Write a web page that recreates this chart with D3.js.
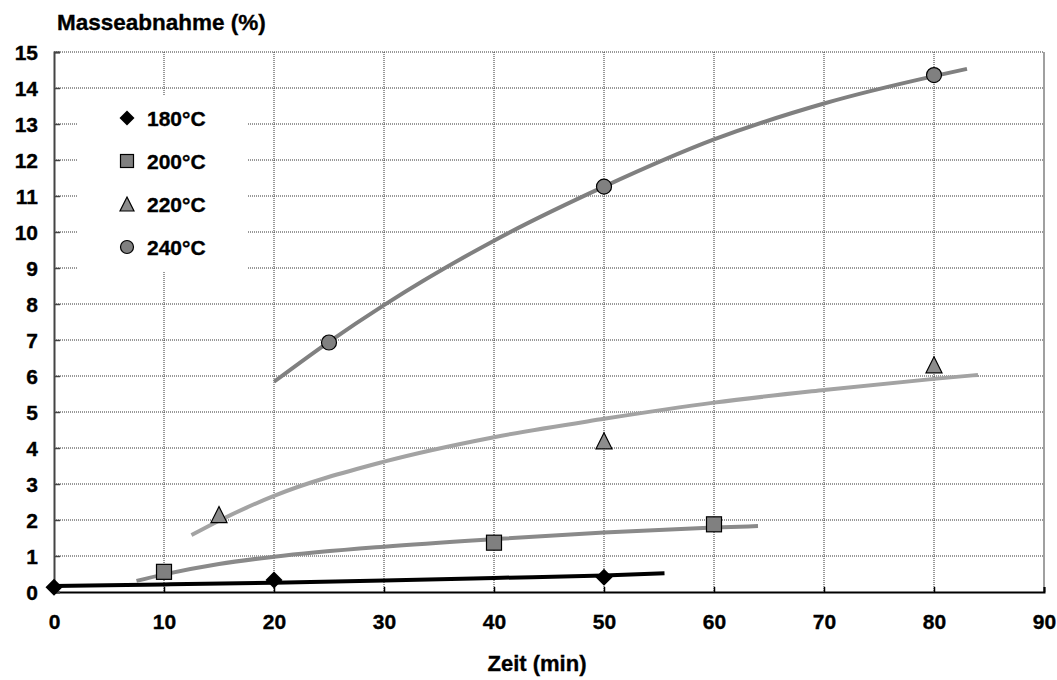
<!DOCTYPE html>
<html>
<head>
<meta charset="utf-8">
<script src="https://cdn.jsdelivr.net/npm/d3@7"></script>
<style>
  html, body { margin: 0; padding: 0; background: #fff; }
  svg { display: block; }
  text { font-family: "Liberation Sans", Arial, Helvetica, sans-serif; font-weight: bold; fill: #000; stroke: #000; stroke-width: 0.35px; }
</style>
</head>
<body>
<svg id="chart" width="1057" height="680"></svg>
<script>
// Series labels (temperatures)
const seriesNames = ["180°C", "200°C", "220°C", "240°C"];

// Measured points: [Zeit (min), Masseabnahme (%)]
const points180 = [[0, 0.13], [20, 0.33], [50, 0.41]];
const points200 = [[10, 0.56], [40, 1.37], [60, 1.88]];
const points220 = [[15, 2.15], [50, 4.20], [80, 6.31]];
const points240 = [[25, 6.93], [50, 11.26], [80, 14.36]];

// Trend curves through the measurements
const trend180 = [[0, 0.17], [10, 0.21], [20, 0.26], [30, 0.32], [40, 0.39], [50, 0.46], [55.5, 0.52]];
const trend200 = [[7.5, 0.31], [10, 0.49], [15, 0.78], [20, 0.98], [30, 1.26], [40, 1.47], [50, 1.65], [60, 1.79], [64, 1.83]];
const trend220 = [[12.5, 1.58], [15, 1.98], [20, 2.67], [30, 3.62], [40, 4.30], [50, 4.81], [60, 5.26], [70, 5.61], [80, 5.92], [84, 6.03]];
const trend240 = [[20, 5.84], [25, 6.95], [30, 7.97], [40, 9.76], [50, 11.26], [60, 12.57], [70, 13.57], [80, 14.33], [83, 14.53]];

// Axis ticks
const xTicks = [0, 10, 20, 30, 40, 50, 60, 70, 80, 90];
const yTicks = [0, 1, 2, 3, 4, 5, 6, 7, 8, 9, 10, 11, 12, 13, 14, 15];

const svg = d3.select("#chart");
const W = 1057, H = 680;
const margin = { left: 54, top: 52, right: 13, bottom: 88 };
const x = d3.scaleLinear().domain([0, 90]).range([margin.left, W - margin.right]);
const y = d3.scaleLinear().domain([0, 15]).range([H - margin.bottom, margin.top]);

const series = [
  { name: seriesNames[0], pts: points180, trend: trend180, line: "#000000", shape: "diamond", fill: "#000000" },
  { name: seriesNames[1], pts: points200, trend: trend200, line: "#8a8a8a", shape: "square",  fill: "#808080" },
  { name: seriesNames[2], pts: points220, trend: trend220, line: "#a3a3a3", shape: "triangle", fill: "#8c8c8c" },
  { name: seriesNames[3], pts: points240, trend: trend240, line: "#808080", shape: "circle",  fill: "#808080" }
];

// Gridlines (dotted)
const grid = svg.append("g").attr("class", "grid");
grid.selectAll("line.h").data(yTicks.filter(d => d > 0)).join("line")
  .attr("x1", x(0)).attr("x2", x(90))
  .attr("y1", d => y(d)).attr("y2", d => y(d))
  .attr("stroke", "#333").attr("stroke-width", 1).attr("stroke-dasharray", "1,1");
grid.selectAll("line.v").data(xTicks.filter(d => d > 0 && d < 90)).join("line")
  .attr("x1", d => x(d)).attr("x2", d => x(d))
  .attr("y1", y(15)).attr("y2", y(0))
  .attr("stroke", "#333").attr("stroke-width", 1).attr("stroke-dasharray", "1,1");

// Right border of the plot area
svg.append("line")
  .attr("x1", x(90)).attr("x2", x(90)).attr("y1", y(15)).attr("y2", y(0))
  .attr("stroke", "#808080").attr("stroke-width", 1.5);

// Legend panel (covers the grid)
const legendX = 78, legendY = 96;
svg.append("rect")
  .attr("x", legendX).attr("y", legendY).attr("width", 170).attr("height", 176)
  .attr("fill", "#fff");

// Axes
const xAxis = d3.axisBottom(x).tickValues(xTicks).tickSize(-5).tickPadding(0).tickFormat(d3.format("d"));
const yAxis = d3.axisLeft(y).tickValues(yTicks).tickSize(-6).tickPadding(0).tickFormat(d3.format("d"));

const gx = svg.append("g").attr("transform", `translate(0,${y(0)})`).call(xAxis);
gx.select(".domain").attr("stroke", "#000").attr("stroke-width", 2);
gx.selectAll(".tick line").attr("stroke", "#000").attr("stroke-width", 1.5);
gx.selectAll(".tick text").attr("font-size", 21).attr("y", 37).attr("dy", 0)
  .attr("font-family", "Liberation Sans, Arial, sans-serif").attr("font-weight", "bold").attr("fill", "#000");

const gy = svg.append("g").attr("transform", `translate(${x(0)},0)`).call(yAxis);
gy.select(".domain").attr("stroke", "#444").attr("stroke-width", 2);
gy.selectAll(".tick line").attr("stroke", "#444").attr("stroke-width", 1.5);
gy.selectAll(".tick text").attr("font-size", 21).attr("x", -16).attr("dy", "0.36em")
  .attr("font-family", "Liberation Sans, Arial, sans-serif").attr("font-weight", "bold").attr("fill", "#000");

// Trend lines
const lineGen = d3.line().x(d => x(d[0])).y(d => y(d[1])).curve(d3.curveMonotoneX);
svg.append("g").selectAll("path").data(series).join("path")
  .attr("d", s => lineGen(s.trend))
  .attr("fill", "none")
  .attr("stroke", s => s.line)
  .attr("stroke-width", 4)
  .attr("stroke-linecap", "butt");

// Marker shapes
function marker(sel, shape, size, fill) {
  const h = size / 2;
  if (shape === "circle") {
    sel.append("circle").attr("r", h).attr("fill", fill).attr("stroke", "#000").attr("stroke-width", 1.2);
  } else if (shape === "square") {
    sel.append("rect").attr("x", -h).attr("y", -h).attr("width", size).attr("height", size)
      .attr("fill", fill).attr("stroke", "#000").attr("stroke-width", 1.2);
  } else if (shape === "triangle") {
    sel.append("path").attr("d", `M0,${-h}L${h},${h}L${-h},${h}Z`)
      .attr("fill", fill).attr("stroke", "#000").attr("stroke-width", 1.2);
  } else {
    sel.append("path").attr("d", `M0,${-h}L${h},0L0,${h}L${-h},0Z`).attr("fill", fill);
  }
}

const sizes = { circle: 15, square: 15, triangle: 16, diamond: 17 };
series.forEach(s => {
  svg.append("g").selectAll("g").data(s.pts).join("g")
    .attr("transform", d => `translate(${x(d[0])},${y(d[1])})`)
    .each(function () { marker(d3.select(this), s.shape, sizes[s.shape], s.fill); });
});

// Legend entries
const legendSizes = { circle: 13, square: 13, triangle: 14, diamond: 15 };
const leg = svg.append("g");
series.forEach((s, i) => {
  const ly = 118 + i * 43;
  const g = leg.append("g").attr("transform", `translate(127,${ly})`);
  marker(g, s.shape, legendSizes[s.shape], s.fill);
  leg.append("text").attr("x", 147).attr("y", ly).attr("dy", "0.36em")
    .attr("font-size", 21).text(s.name);
});

// Axis titles
svg.append("text").attr("x", 57).attr("y", 30).attr("font-size", 22.5).text("Masseabnahme (%)");
svg.append("text").attr("x", 537).attr("y", 671).attr("text-anchor", "middle").attr("font-size", 22).text("Zeit (min)");
</script>
</body>
</html>
